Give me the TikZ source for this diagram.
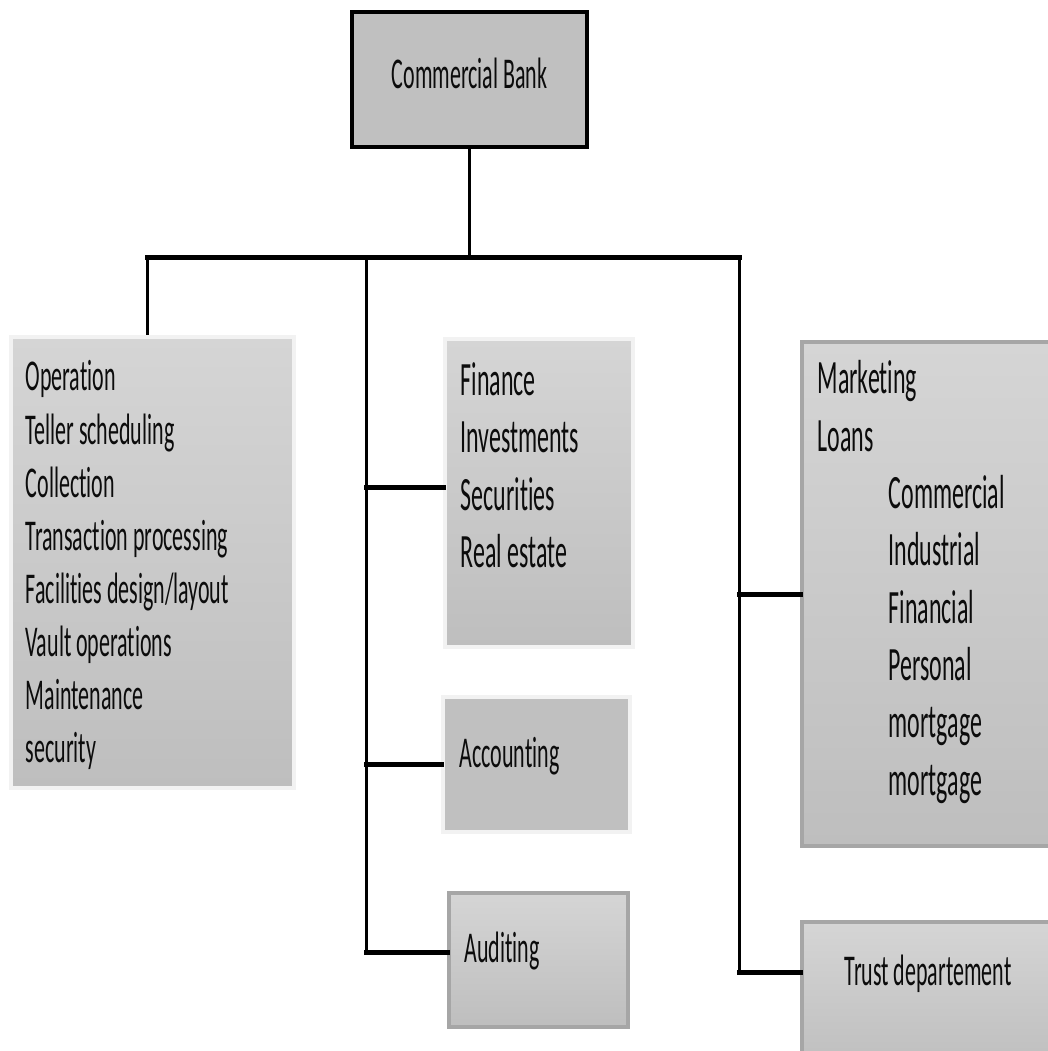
\documentclass[tikz,border=0pt]{standalone}
\usepackage{fontspec}
\usepackage{xcolor}
\usepackage{tikz}
\usetikzlibrary{positioning, calc}
\newfontfamily\chartfont[FakeStretch=0.5, Ligatures=NoCommon]{Carlito}
\definecolor{mydark}{RGB}{12,12,12}
\definecolor{boxfill}{RGB}{192,192,192}
\definecolor{boxtop}{RGB}{213,213,213}
\definecolor{boxbot}{RGB}{190,190,190}
\definecolor{rimlight}{RGB}{242,242,242}
\definecolor{rimgray}{RGB}{166,166,166}
\tikzset{
  topbox/.style={rectangle, draw=black, fill=boxfill, line width=0.04cm,
    minimum width=2.35cm, minimum height=1.35cm, inner sep=0pt,
    text depth=0.12cm, text=mydark, font=\chartfont\fontsize{12.5}{15}\selectfont},
  lightbox/.style={rectangle, draw=rimlight, top color=boxtop, bottom color=boxbot,
    line width=0.04cm, inner sep=0pt},
  flatbox/.style={rectangle, draw=rimlight, fill=boxfill,
    line width=0.04cm, inner sep=0pt},
  graybox/.style={rectangle, draw=rimgray, top color=boxtop, bottom color=boxbot,
    line width=0.04cm, inner sep=0pt},
  itemtext/.style={inner sep=0pt, align=left, text=mydark,
    font=\chartfont\fontsize{12.5}{15.1}\selectfont},
  bigtext/.style={inner sep=0pt, align=left, text=mydark,
    font=\chartfont\fontsize{13.6}{16.3}\selectfont},
  hconn/.style={line width=0.05cm, color=black, line cap=rect},
  vconn/.style={line width=0.03cm, color=black}
}

\begin{document}
\begin{tikzpicture}[x=0.01cm, y=-0.01cm]
  % Page frame
  \useasboundingbox (0,0) rectangle (1048,1051);
  \clip (0,0) rectangle (1048,1051);

  % Trunk points
  \coordinate (trunkL) at (147.5,257.5);
  \coordinate (trunkM) at (366.5,257.5);
  \coordinate (trunkR) at (739.5,257.5);
  \coordinate (midend) at (366.5,952.5);
  \coordinate (rightend) at (739.5,972.5);

  % Head office
  \node[topbox] (bank) at (469.5,79.5) {Commercial Bank};

  % Department boxes
  \node[lightbox, minimum width=2.82cm, minimum height=4.50cm] (operation) at (152.5,562.5) {};
  \node[lightbox, minimum width=1.87cm, minimum height=3.07cm] (finance) at (539,493) {};
  \node[flatbox, minimum width=1.86cm, minimum height=1.35cm] (accounting) at (536.5,764.5) {};
  \node[graybox, minimum width=1.78cm, minimum height=1.34cm] (auditing) at (538.5,960) {};
  \node[graybox, minimum width=2.63cm, minimum height=5.03cm] (marketing) at (934,594) {};
  \node[graybox, minimum width=2.63cm, minimum height=1.48cm] (trust) at (934,996) {};
  \coordinate (financejoin) at ([yshift=0.06cm]finance.west);

  % Connectors
  \draw[vconn] (bank.south) -- (bank.south |- trunkM);
  \draw[hconn] (trunkL) -- (trunkR);
  \draw[vconn] (trunkL) -- (trunkL |- operation.north);
  \draw[vconn] (trunkM) -- (midend);
  \draw[vconn] (trunkR) -- (rightend);
  \draw[hconn] (trunkM |- financejoin) -- (financejoin);
  \draw[hconn] (trunkM |- accounting.west) -- (accounting.west);
  \draw[hconn] (midend) -- (midend -| auditing.west);
  \draw[hconn] (trunkR |- marketing.west) -- (marketing.west);
  \draw[hconn] (rightend) -- (rightend -| trust.west);

  % Box texts
  \node[itemtext, anchor=north west] (operationtext) at (25,360)
    {Operation\\Teller scheduling\\Collection\\Transaction processing\\
     Facilities design/layout\\Vault operations\\Maintenance\\security};
  \node[bigtext, anchor=north west] (financetext) at (460,362)
    {Finance\\Investments\\Securities\\Real estate};
  \node[bigtext, anchor=north west] (marketingtext) at (817,360)
    {Marketing\\Loans\\\hspace*{0.71cm}Commercial\\\hspace*{0.71cm}Industrial\\
     \hspace*{0.71cm}Financial\\\hspace*{0.71cm}Personal\\
     \hspace*{0.71cm}mortgage\\\hspace*{0.71cm}mortgage};
  \node[itemtext, anchor=west] (accountingtext) at (459,756) {Accounting};
  \node[itemtext, anchor=west] (auditingtext) at (464,951) {Auditing};
  \node[itemtext, anchor=west] (trusttext) at (844,974) {Trust departement};
\end{tikzpicture}
\end{document}
